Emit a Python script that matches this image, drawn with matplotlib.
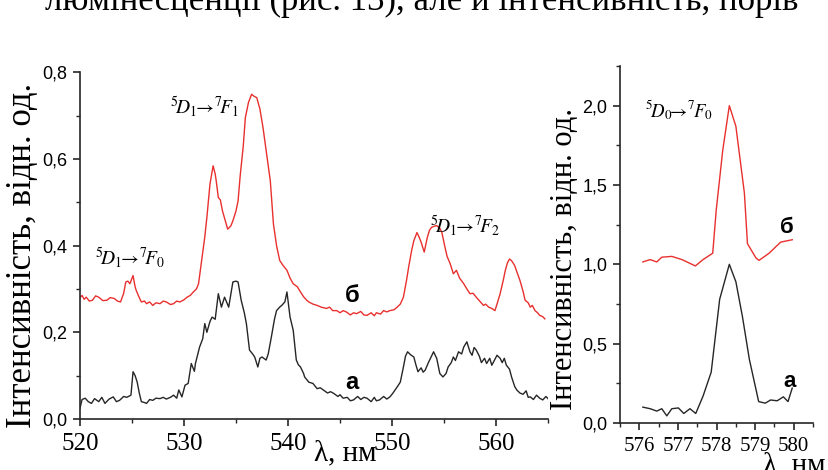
import matplotlib
matplotlib.use("Agg")
import matplotlib.pyplot as plt
from matplotlib.ticker import MultipleLocator, FuncFormatter

# ----- спектр 5D1 -> 7F0,1,2 : зразок "а" (чорний) -----
wl_a = [520.0, 520.2, 520.5, 520.8, 521.1, 521.4, 521.8, 522.1, 522.4, 522.8,
        523.2, 523.5, 523.8, 524.2, 524.5, 524.9, 525.1, 525.3, 525.5, 525.7,
        525.9, 526.2, 526.4, 526.7, 527.0, 527.3, 527.7, 528.0, 528.3, 528.7,
        529.0, 529.3, 529.5, 529.8, 530.1, 530.4, 530.7, 531.0, 531.1, 531.5,
        531.8, 532.0, 532.2, 532.5, 532.7, 533.0, 533.3, 533.6, 533.9, 534.3,
        534.7, 535.0, 535.2, 535.5, 535.8, 536.0, 536.3, 536.6, 536.8, 537.1,
        537.3, 537.5, 537.9, 538.1, 538.4, 538.7, 538.9, 539.2, 539.4, 539.7,
        539.9, 540.2, 540.5, 540.8, 541.0, 541.2, 541.5, 541.6, 542.0, 542.4,
        542.8, 543.1, 543.4, 543.8, 544.1, 544.4, 544.8, 545.0, 545.3, 545.7,
        546.0, 546.3, 546.7, 547.0, 547.3, 547.6, 548.0, 548.3, 548.5, 548.8,
        549.2, 549.5, 549.8, 550.1, 550.5, 550.8, 551.1, 551.3, 551.5, 551.8,
        552.1, 552.3, 552.5, 552.8, 553.0, 553.2, 553.5, 553.8, 554.0, 554.3,
        554.6, 554.9, 555.2, 555.4, 555.7, 555.9, 556.1, 556.4, 556.7, 556.9,
        557.2, 557.5, 557.7, 557.9, 558.1, 558.4, 558.6, 558.9, 559.1, 559.4,
        559.6, 559.9, 560.1, 560.4, 560.6, 560.8, 561.0, 561.3, 561.5, 561.8,
        562.0, 562.3, 562.6, 562.9, 563.1, 563.3, 563.6, 563.9, 564.2, 564.5,
        564.8, 565.0]
int_a = [0.025, 0.045, 0.048, 0.040, 0.036, 0.047, 0.040, 0.050, 0.036, 0.046,
         0.051, 0.040, 0.043, 0.052, 0.050, 0.055, 0.109, 0.100, 0.085, 0.060,
         0.040, 0.038, 0.036, 0.045, 0.043, 0.048, 0.047, 0.050, 0.046, 0.050,
         0.055, 0.048, 0.067, 0.051, 0.078, 0.082, 0.128, 0.110, 0.128, 0.166,
         0.185, 0.220, 0.200, 0.225, 0.235, 0.230, 0.289, 0.258, 0.281, 0.258,
         0.316, 0.318, 0.316, 0.274, 0.245, 0.220, 0.159, 0.150, 0.143, 0.120,
         0.140, 0.143, 0.136, 0.150, 0.189, 0.230, 0.250, 0.258, 0.262, 0.270,
         0.293, 0.235, 0.205, 0.136, 0.125, 0.120, 0.105, 0.097, 0.085, 0.082,
         0.070, 0.072, 0.067, 0.060, 0.063, 0.059, 0.052, 0.056, 0.048, 0.050,
         0.042, 0.044, 0.052, 0.045, 0.050, 0.048, 0.040, 0.050, 0.042, 0.044,
         0.052, 0.046, 0.051, 0.060, 0.074, 0.085, 0.120, 0.145, 0.155, 0.148,
         0.143, 0.125, 0.109, 0.118, 0.108, 0.113, 0.130, 0.145, 0.155, 0.140,
         0.105, 0.097, 0.105, 0.120, 0.130, 0.143, 0.135, 0.155, 0.150, 0.166,
         0.178, 0.155, 0.147, 0.165, 0.159, 0.145, 0.130, 0.140, 0.128, 0.140,
         0.124, 0.138, 0.147, 0.140, 0.130, 0.140, 0.124, 0.115, 0.097, 0.075,
         0.067, 0.060, 0.057, 0.065, 0.050, 0.051, 0.045, 0.055, 0.048, 0.044,
         0.052, 0.047]

# ----- зразок "б" (червоний) -----
wl_b = [520.0, 520.2, 520.4, 520.6, 520.9, 521.2, 521.5, 521.8, 522.2, 522.6,
        522.9, 523.3, 523.6, 523.9, 524.2, 524.4, 524.6, 524.8, 525.0, 525.1,
        525.3, 525.4, 525.7, 525.9, 526.2, 526.4, 526.7, 527.0, 527.3, 527.7,
        528.0, 528.3, 528.7, 529.0, 529.3, 529.6, 530.0, 530.3, 530.6, 530.9,
        531.2, 531.4, 531.7, 532.0, 532.2, 532.5, 532.8, 533.0, 533.1, 533.3,
        533.5, 533.7, 534.0, 534.2, 534.5, 534.7, 535.0, 535.2, 535.4, 535.7,
        535.9, 536.2, 536.5, 536.7, 537.0, 537.3, 537.6, 537.9, 538.3, 538.6,
        538.9, 539.2, 539.5, 539.9, 540.2, 540.5, 540.9, 541.2, 541.5, 541.8,
        542.0, 542.4, 542.8, 543.2, 543.7, 544.0, 544.3, 544.7, 545.0, 545.3,
        545.6, 546.0, 546.3, 546.6, 547.0, 547.3, 547.6, 548.0, 548.3, 548.5,
        548.9, 549.2, 549.5, 549.8, 550.2, 550.5, 550.8, 551.1, 551.4, 551.6,
        551.9, 552.1, 552.4, 552.6, 552.8, 553.1, 553.4, 553.6, 553.8, 554.1,
        554.3, 554.6, 554.8, 555.1, 555.3, 555.6, 555.9, 556.2, 556.5, 556.9,
        557.2, 557.5, 557.8, 558.1, 558.5, 558.8, 559.0, 559.3, 559.6, 559.9,
        560.1, 560.4, 560.7, 560.9, 561.1, 561.3, 561.5, 561.8, 562.0, 562.3,
        562.6, 562.8, 563.1, 563.3, 563.5, 563.75, 564.0, 564.2, 564.5, 564.7]
int_b = [0.280, 0.285, 0.276, 0.281, 0.272, 0.274, 0.284, 0.281, 0.273, 0.274,
         0.280, 0.278, 0.272, 0.270, 0.290, 0.316, 0.318, 0.312, 0.325, 0.331,
         0.305, 0.297, 0.280, 0.270, 0.272, 0.266, 0.270, 0.262, 0.268, 0.266,
         0.272, 0.270, 0.264, 0.266, 0.272, 0.270, 0.275, 0.281, 0.285, 0.293,
         0.300, 0.312, 0.366, 0.420, 0.465, 0.542, 0.584, 0.565, 0.549, 0.511,
         0.505, 0.480, 0.455, 0.438, 0.445, 0.457, 0.480, 0.503, 0.560, 0.630,
         0.695, 0.730, 0.749, 0.745, 0.741, 0.715, 0.672, 0.620, 0.549, 0.450,
         0.400, 0.366, 0.355, 0.343, 0.325, 0.312, 0.305, 0.293, 0.282, 0.274,
         0.270, 0.265, 0.262, 0.258, 0.255, 0.258, 0.250, 0.250, 0.245, 0.250,
         0.247, 0.240, 0.245, 0.243, 0.248, 0.240, 0.239, 0.245, 0.238, 0.245,
         0.242, 0.250, 0.247, 0.250, 0.252, 0.258, 0.265, 0.281, 0.320, 0.350,
         0.390, 0.411, 0.430, 0.420, 0.408, 0.385, 0.419, 0.435, 0.442, 0.445,
         0.446, 0.440, 0.430, 0.396, 0.375, 0.358, 0.335, 0.343, 0.325, 0.312,
         0.300, 0.289, 0.290, 0.281, 0.270, 0.262, 0.265, 0.258, 0.255, 0.250,
         0.265, 0.289, 0.320, 0.343, 0.360, 0.369, 0.365, 0.354, 0.340, 0.320,
         0.295, 0.274, 0.268, 0.258, 0.262, 0.250, 0.245, 0.239, 0.236, 0.231]

# ----- 5D0 -> 7F0 (права панель) -----
wl0_a = [576.09, 576.28, 576.45, 576.58, 576.71, 576.84, 577.01, 577.15, 577.31, 577.46,
         577.65, 577.86, 578.08, 578.33, 578.50, 578.67, 578.85, 579.09, 579.26, 579.40,
         579.57, 579.73, 579.85, 579.96]
int0_a = [0.10, 0.09, 0.075, 0.09, 0.045, 0.09, 0.095, 0.06, 0.09, 0.06,
          0.17, 0.32, 0.78, 1.00, 0.89, 0.67, 0.40, 0.135, 0.125, 0.145,
          0.14, 0.165, 0.135, 0.22]
wl0_b = [576.09, 576.28, 576.45, 576.58, 576.84, 577.10, 577.45, 577.65, 577.90, 577.99,
         578.16, 578.33, 578.50, 578.72, 578.80, 579.02, 579.10, 579.36, 579.66, 579.96]
int0_b = [1.015, 1.03, 1.015, 1.045, 1.05, 1.03, 0.99, 1.03, 1.07, 1.34,
          1.72, 2.00, 1.87, 1.45, 1.13, 1.04, 1.025, 1.07, 1.14, 1.155]

RED = '#e8302e'
BLACK = '#262626'
SERIF = 'Liberation Serif'
SANS = 'Liberation Sans'

plt.rcParams['mathtext.fontset'] = 'stix'
plt.rcParams['axes.linewidth'] = 1.2


def comma(v, pos):
    return f'{v:.1f}'.replace('.', ',')


def style_axis(ax, xfs):
    for s in ['top', 'right']:
        ax.spines[s].set_visible(False)
    for s in ['left', 'bottom']:
        ax.spines[s].set_color(BLACK)
    ax.tick_params(which='major', direction='out', length=5, width=1.2, color=BLACK)
    ax.tick_params(which='minor', direction='out', length=3, width=1.0, color=BLACK)
    ax.tick_params(axis='x', pad=5)
    ax.tick_params(axis='y', pad=4)
    ax.yaxis.set_major_formatter(FuncFormatter(comma))
    for t in ax.get_xticklabels():
        t.set_fontfamily(SERIF)
        t.set_fontsize(xfs)
    for t in ax.get_yticklabels():
        t.set_fontfamily(SANS)
        t.set_fontsize(13)


fig = plt.figure(figsize=(8.29, 4.70), dpi=100)

# ---------------- ліва панель ----------------
ax1 = fig.add_axes([0.0965, 0.1085, 0.5645, 0.738])
ax1.plot(wl_a, int_a, color=BLACK, lw=1.0)
ax1.plot(wl_b, int_b, color=RED, lw=1.0)
ax1.set_xlim(520, 565)
ax1.set_ylim(0, 0.8)
ax1.xaxis.set_major_locator(MultipleLocator(10))
ax1.xaxis.set_minor_locator(MultipleLocator(5))
ax1.yaxis.set_major_locator(MultipleLocator(0.2))
ax1.yaxis.set_minor_locator(MultipleLocator(0.1))
style_axis(ax1, 18)

ax1.text(532.0, 0.72, r'$^{5}\!D_{1}\!\!\rightarrow\!{}^{7}\!F_{1}$', fontsize=14, ha='center', va='center')
ax1.text(521.45, 0.372, r'$^{5}\!D_{1}\!\!\rightarrow\!{}^{7}\!F_{0}$', fontsize=14, ha='left', va='center')
ax1.text(557.0, 0.446, r'$^{5}\!D_{1}\!\!\rightarrow\!{}^{7}\!F_{2}$', fontsize=14, ha='center', va='center')
ax1.text(546.15, 0.285, 'б', fontsize=17, fontweight='bold', family=SANS, ha='center', va='center')
ax1.text(546.15, 0.085, 'а', fontsize=17, fontweight='bold', family=SANS, ha='center', va='center')

# ---------------- права панель ----------------
ax2 = fig.add_axes([0.748, 0.10, 0.2328, 0.7596])
ax2.plot(wl0_a, int0_a, color=BLACK, lw=1.0)
ax2.plot(wl0_b, int0_b, color=RED, lw=1.0)
ax2.set_xlim(575.5, 580.5)
ax2.set_ylim(0, 2.25)
ax2.xaxis.set_major_locator(MultipleLocator(1))
ax2.xaxis.set_minor_locator(MultipleLocator(0.5))
ax2.yaxis.set_major_locator(MultipleLocator(0.5))
ax2.yaxis.set_minor_locator(MultipleLocator(0.25))
ax2.xaxis.set_major_formatter(FuncFormatter(lambda v, p: f'{v:.0f}'))
style_axis(ax2, 15)

ax2.text(576.15, 1.97, r'$^{5}\!D_{0}\!\!\rightarrow\!{}^{7}\!F_{0}$', fontsize=13.5, ha='left', va='center')
ax2.text(579.83, 1.23, 'б', fontsize=16, fontweight='bold', family=SANS, ha='center', va='center')
ax2.text(579.9, 0.26, 'а', fontsize=16, fontweight='bold', family=SANS, ha='center', va='center')

# ---------------- підписи осей ----------------
fig.text(23 / 829, 1 - 255 / 470, 'Інтенсивність, відн. од.', rotation=90,
         family=SERIF, fontsize=25, ha='center', va='center')
fig.text(565 / 829, 1 - 259 / 470, 'Інтенсивність, відн. од.', rotation=90,
         family=SERIF, fontsize=22, ha='center', va='center')
fig.text(345 / 829, 1 - 453 / 470, 'λ, нм', family=SERIF, fontsize=21, ha='center', va='center')
fig.text(763 / 829, 1 - 465 / 470, 'λ, нм', family=SERIF, fontsize=21, ha='left', va='center')

# обрізаний рядок тексту зверху
fig.text(45 / 829, 1 - 10 / 470, 'люмінесценції (рис. 13), але й інтенсивність, порів',
         family=SERIF, fontsize=25, ha='left', va='baseline')

fig.savefig('out.png', dpi=100)
